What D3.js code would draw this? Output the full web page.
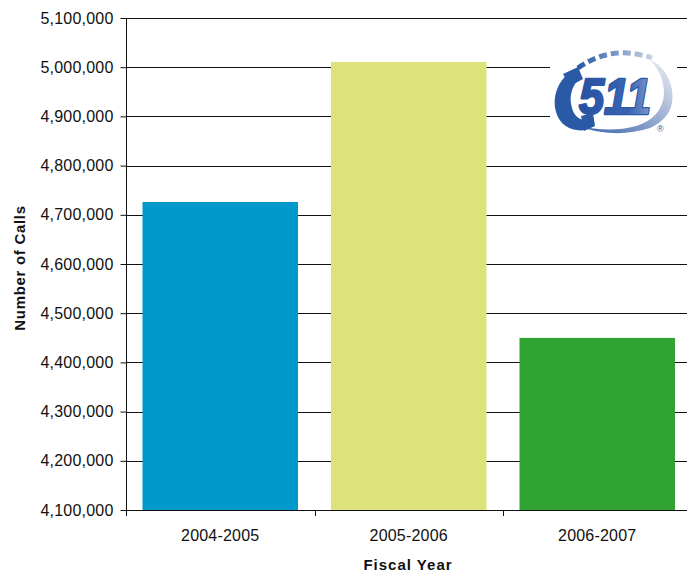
<!DOCTYPE html>
<html>
<head>
<meta charset="utf-8">
<script src="https://cdn.jsdelivr.net/npm/d3@7"></script>
<style>
  html, body { margin: 0; padding: 0; background: #fff; }
  svg { display: block; }
  text { font-family: "Liberation Sans", Arial, sans-serif; fill: #111; }
</style>
</head>
<body>
<svg id="chart" width="687" height="573"></svg>
<script>
// Annual call volume by fiscal year
const fiscalYears = ["2004-2005", "2005-2006", "2006-2007"];
const callCounts = [4726000, 5010700, 4449800];
const barColors = ["#0099cc", "#dde27a", "#31a332"];
const yTicks = [4100000, 4200000, 4300000, 4400000, 4500000, 4600000,
                4700000, 4800000, 4900000, 5000000, 5100000];

const svg = d3.select("#chart");
const W = 687;
const plot = { left: 126, right: 691.5, top: 18, bottom: 510 };

const y = d3.scaleLinear().domain([4100000, 5100000]).range([plot.bottom, plot.top]);
const x = d3.scaleBand().domain(fiscalYears)
  .range([plot.left, plot.right])
  .paddingInner(0.175).paddingOuter(0.0875);

// Horizontal gridlines
svg.append("g").selectAll("line").data(yTicks.slice(1)).join("line")
  .attr("x1", plot.left).attr("x2", W)
  .attr("y1", d => Math.round(y(d)) + 0.5).attr("y2", d => Math.round(y(d)) + 0.5)
  .attr("stroke", "#111").attr("stroke-width", 1);

// Bars
svg.append("g").selectAll("rect").data(fiscalYears).join("rect")
  .attr("x", d => x(d))
  .attr("width", x.bandwidth())
  .attr("y", (d, i) => y(callCounts[i]))
  .attr("height", (d, i) => plot.bottom - y(callCounts[i]))
  .attr("fill", (d, i) => barColors[i]);

// Y axis
const fmt = d3.format(",");
const yAxis = svg.append("g").attr("transform", `translate(${plot.left + 0.5},0)`)
  .call(d3.axisLeft(y).tickValues(yTicks).tickFormat(fmt).tickSize(6).tickPadding(7));
yAxis.select(".domain").attr("stroke", "#111").attr("d", `M0,${plot.top}V${plot.bottom}`);
yAxis.selectAll(".tick line").attr("stroke", "#111");
yAxis.selectAll(".tick text")
  .style("font-family", '"Liberation Sans", Arial, sans-serif')
  .style("font-size", "16px").style("letter-spacing", "0.2px").attr("fill", "#111");

// X axis: baseline with ticks at category boundaries
const xg = svg.append("g");
xg.append("line")
  .attr("x1", plot.left).attr("x2", W)
  .attr("y1", plot.bottom + 0.5).attr("y2", plot.bottom + 0.5)
  .attr("stroke", "#111");
const step = x.step();
const boundaries = d3.range(fiscalYears.length).map(i => plot.left + i * step);
xg.selectAll("line.tk").data(boundaries).join("line").attr("class", "tk")
  .attr("x1", d => Math.round(d) + 0.5).attr("x2", d => Math.round(d) + 0.5)
  .attr("y1", plot.bottom).attr("y2", plot.bottom + 6)
  .attr("stroke", "#111");
xg.selectAll("text").data(fiscalYears).join("text")
  .attr("x", d => x(d) + x.bandwidth() / 2)
  .attr("y", 541)
  .attr("text-anchor", "middle")
  .style("font-size", "16px").style("letter-spacing", "0.2px")
  .text(d => d);

// Axis titles
svg.append("text")
  .attr("x", 408).attr("y", 570)
  .attr("text-anchor", "middle")
  .style("font-size", "15px").style("font-weight", "bold").style("letter-spacing", "1px")
  .text("Fiscal Year");
svg.append("text")
  .attr("transform", "translate(25,268) rotate(-90)")
  .attr("text-anchor", "middle")
  .style("font-size", "15px").style("font-weight", "bold").style("letter-spacing", "0.7px")
  .text("Number of Calls");

// 511 service logo
const defs = svg.append("defs");
const gArc = defs.append("linearGradient").attr("id", "arcGrad")
  .attr("x1", "0").attr("y1", "0").attr("x2", "1").attr("y2", "0");
gArc.append("stop").attr("offset", "0").attr("stop-color", "#2a5aa6");
gArc.append("stop").attr("offset", "1").attr("stop-color", "#c9d3e6");
const gRing = defs.append("linearGradient").attr("id", "ringGrad")
  .attr("x1", "0").attr("y1", "1").attr("x2", "1").attr("y2", "0");
gRing.append("stop").attr("offset", "0").attr("stop-color", "#2a5aa6");
gRing.append("stop").attr("offset", "0.55").attr("stop-color", "#9fb0d3");
gRing.append("stop").attr("offset", "1").attr("stop-color", "#eef0f5");
const gNum = defs.append("linearGradient").attr("id", "numGrad")
  .attr("x1", "0").attr("y1", "0").attr("x2", "1").attr("y2", "0");
gNum.append("stop").attr("offset", "0").attr("stop-color", "#2750a0");
gNum.append("stop").attr("offset", "0.7").attr("stop-color", "#3a66b4");
gNum.append("stop").attr("offset", "1").attr("stop-color", "#7f97c9");

const logo = svg.append("g");
logo.append("rect").attr("x", 550).attr("y", 44).attr("width", 127).attr("height", 98).attr("fill", "#fff");
// dashed upper arc
logo.append("path")
  .attr("d", "M578,68 Q612,44 652,58")
  .attr("fill", "none").attr("stroke", "url(#arcGrad)")
  .attr("stroke-width", 5).attr("stroke-dasharray", "8 4");
// swoosh ring around the number
logo.append("path")
  .attr("d", "M572,124 Q612,140 650,128 Q676,116 672,90 Q668,68 650,60 Q664,74 664,94 Q662,118 636,126 Q608,134 572,124 Z")
  .attr("fill", "url(#ringGrad)");
// telephone handset
logo.append("path")
  .attr("d", "M570,72 C557,82 552,98 556,112 C560,126 572,132 586,130 L588,120 C580,121 574,116 572,108 C569,98 571,88 578,80 Z")
  .attr("fill", "#2a5aa6");
logo.append("path")
  .attr("d", "M563,74 L578,67 L583,79 L570,86 Z")
  .attr("fill", "#2a5aa6");
logo.append("path")
  .attr("d", "M581,116 L593,113 L595,126 L584,131 Z")
  .attr("fill", "#2a5aa6");
// number
logo.append("text")
  .attr("x", 579).attr("y", 114)
  .attr("textLength", 72).attr("lengthAdjust", "spacingAndGlyphs")
  .style("font-size", "50px").style("font-weight", "bold").style("font-style", "italic")
  .style("fill", "#2a5aa6").style("stroke", "#2a5aa6").style("stroke-width", 2.5)
  .style("stroke-linejoin", "round")
  .text("511");
logo.append("text")
  .attr("x", 579).attr("y", 114)
  .attr("textLength", 72).attr("lengthAdjust", "spacingAndGlyphs")
  .style("font-size", "50px").style("font-weight", "bold").style("font-style", "italic")
  .style("fill", "url(#numGrad)")
  .text("511");
logo.append("text")
  .attr("x", 657).attr("y", 132)
  .style("font-size", "9px").style("fill", "#2a5aa6")
  .text("®");
</script>
</body>
</html>
